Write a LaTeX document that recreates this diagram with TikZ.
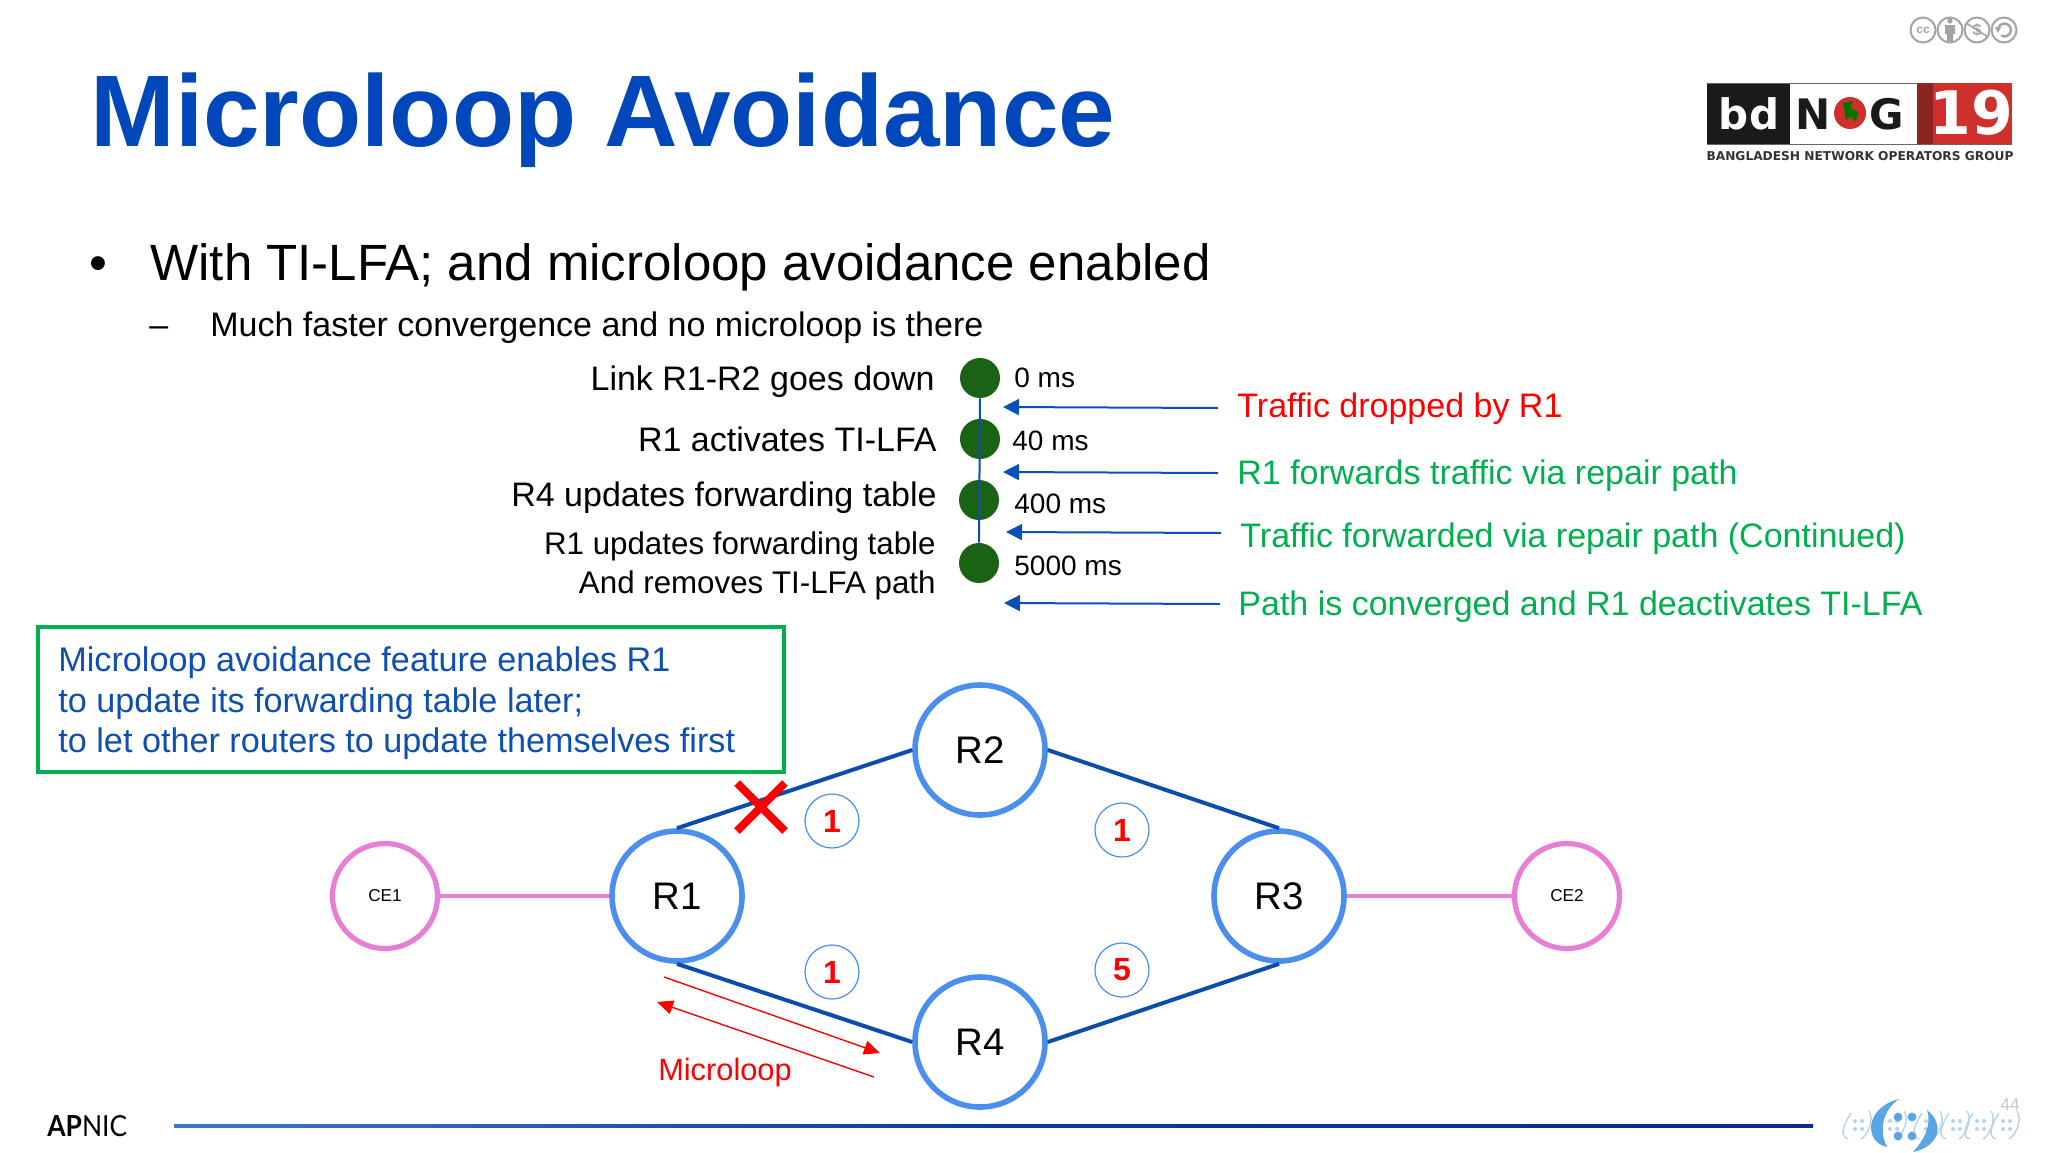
\documentclass[tikz,border=0pt]{standalone}
\usepackage{fontspec}
\setmainfont{Liberation Sans}
\newfontfamily\logofont{DejaVu Sans}
\newfontfamily\apnicfont{Lato}
\usetikzlibrary{arrows.meta}
\definecolor{titleblue}{HTML}{0047BB}
\definecolor{linkblue}{HTML}{0B4DAA}
\definecolor{ringblue}{HTML}{4A8FEE}
\definecolor{pinkline}{HTML}{E87FD6}
\definecolor{dotgreen}{HTML}{1B6314}
\definecolor{txtgreen}{HTML}{00B050}
\definecolor{arrowblue}{HTML}{0B50B8}
\definecolor{boxtext}{HTML}{0F4FB0}
\definecolor{ccgray}{HTML}{A3A3A3}
\definecolor{lightlogo}{HTML}{B5D3EE}
\definecolor{darklogo}{HTML}{5AA5E3}
\definecolor{footA}{HTML}{3C78C8}
\definecolor{footB}{HTML}{0B3A9A}
\definecolor{footC}{HTML}{0A2A8A}
\definecolor{logored}{HTML}{D0302C}
\definecolor{logodark}{HTML}{8E2420}
\definecolor{logoblack}{HTML}{1A1A1A}
\tikzset{
  x=0.5pt,y=-0.5pt,
  router/.style={circle,draw=ringblue,line width=2.8pt,minimum size=65pt,inner sep=0pt,font=\fontsize{19.2}{20}\selectfont},
  ce/.style={circle,draw=pinkline,line width=2.6pt,minimum size=52.5pt,inner sep=0pt,font=\fontsize{8.6}{10}\selectfont},
  link/.style={draw=linkblue,line width=2pt},
  pink/.style={draw=pinkline,line width=2pt},
  cost/.style={circle,draw=ringblue,line width=0.6pt,minimum size=27pt,inner sep=0pt,text=red,font=\bfseries\fontsize{16}{18}\selectfont},
  tdot/.style={circle,fill=dotgreen,minimum size=20pt,inner sep=0pt},
  tarrow/.style={draw=arrowblue,line width=1pt,-{Triangle[length=8pt,width=8pt]}},
  tlabel/.style={anchor=west,inner sep=0pt,font=\fontsize{14}{16}\selectfont},
  llabel/.style={anchor=east,inner sep=0pt,font=\fontsize{17}{20}\selectfont},
  slabel/.style={anchor=east,inner sep=0pt,font=\fontsize{15.65}{18}\selectfont},
  rlabel/.style={anchor=west,inner sep=0pt,font=\fontsize{17}{20}\selectfont},
  redarrow/.style={draw=red,line width=0.7pt,-{Triangle[length=8pt,width=7pt]}},
  cc/.style={circle,draw=ccgray,line width=1pt,minimum size=12.5pt,inner sep=0pt,fill=white},
  smalllogo/.style={draw=lightlogo,line width=0.7pt},
  notetext/.style={anchor=west,inner sep=0pt,text=boxtext,font=\fontsize{17.1}{20}\selectfont},
}
\begin{document}
\begin{tikzpicture}
\useasboundingbox (0,0) rectangle (2048,1152);
\fill[white] (0,0) rectangle (2048,1152);

% title and bullets
\node[anchor=base west,inner sep=0pt,text=titleblue,font=\bfseries\fontsize{50.85}{56}\selectfont] (title) at (90,146) {Microloop Avoidance};
\node[anchor=base west,inner sep=0pt,font=\fontsize{25.5}{30}\selectfont] (b1) at (89,280) {•};
\node[anchor=base west,inner sep=0pt,font=\fontsize{25.5}{30}\selectfont] (h1) at (150,280) {With TI-LFA; and microloop avoidance enabled};
\node[anchor=base west,inner sep=0pt,font=\fontsize{17}{20}\selectfont] (b2) at (149,336) {–};
\node[anchor=base west,inner sep=0pt,font=\fontsize{17}{20}\selectfont] (h2) at (210,336) {Much faster convergence and no microloop is there};

% timeline
\node[tdot] (t1) at (980,378) {};
\node[tdot] (t2) at (980,439) {};
\node[tdot] (t3) at (979,500) {};
\node[tdot] (t4) at (979,563) {};
\draw[draw=arrowblue,line width=1pt] (t1) -- (t4);
\node[tlabel] (m1) at (1014,378) {0 ms};
\node[tlabel] (m2) at (1012,441) {40 ms};
\node[tlabel] (m3) at (1014,504) {400 ms};
\node[tlabel] (m4) at (1014,566) {5000 ms};
\node[llabel] (l1) at (935,382) {Link R1-R2 goes down};
\node[llabel] (l2) at (937,439) {R1 activates TI-LFA};
\node[llabel] (l3) at (937,498) {R4 updates forwarding table};
\node[slabel] (l4) at (936,546) {R1 updates forwarding table};
\node[slabel] (l5) at (936,585) {And removes TI-LFA path};
\node[rlabel,text=red] (r1) at (1237,409) {Traffic dropped by R1};
\node[rlabel,text=txtgreen] (r2) at (1237,476) {R1 forwards traffic via repair path};
\node[rlabel,text=txtgreen] (r3) at (1240,539) {Traffic forwarded via repair path (Continued)};
\node[rlabel,text=txtgreen] (r4) at (1238,607) {Path is converged and R1 deactivates TI-LFA};
\coordinate (a1s) at (1218,408); \coordinate (a1e) at (1003,407);
\coordinate (a2s) at (1218,473); \coordinate (a2e) at (1003,472);
\coordinate (a3s) at (1221,533); \coordinate (a3e) at (1006,532);
\coordinate (a4s) at (1220,604); \coordinate (a4e) at (1004,603);
\draw[tarrow] (a1s) -- (a1e);
\draw[tarrow] (a2s) -- (a2e);
\draw[tarrow] (a3s) -- (a3e);
\draw[tarrow] (a4s) -- (a4e);

% note box
\node[draw=txtgreen,line width=2pt,anchor=north west,minimum width=373pt,minimum height=72.5pt,inner sep=0pt] (note) at (35.5,624.5) {};
\node[notetext] (n1) at (58,663) {Microloop avoidance feature enables R1};
\node[notetext] (n2) at (58,704) {to update its forwarding table later;};
\node[notetext] (n3) at (58,744) {to let other routers to update themselves first};

% network
\node[router] (R1) at (677,896) {R1};
\node[router] (R2) at (980,750) {R2};
\node[router] (R3) at (1279,896) {R3};
\node[router] (R4) at (980,1042) {R4};
\node[ce] (CE1) at (385,896) {CE1};
\node[ce] (CE2) at (1567,896) {CE2};
\draw[link] (R1.north) -- (R2.west);
\draw[link] (R2.east) -- (R3.north);
\draw[link] (R1.south) -- (R4.west);
\draw[link] (R4.east) -- (R3.south);
\draw[pink] (CE1) -- (R1);
\draw[pink] (R3) -- (CE2);
\node[cost] (c1) at (832,821) {1};
\node[cost] (c2) at (1122,830) {1};
\node[cost] (c3) at (832,972) {1};
\node[cost] (c4) at (1122,970) {5};
\coordinate (xa) at (737,783); \coordinate (xb) at (785,831);
\coordinate (xc) at (737,831); \coordinate (xd) at (785,783);
\draw[red,line width=4pt] (xa) -- (xb);
\draw[red,line width=4pt] (xc) -- (xd);
\coordinate (ma) at (664,977); \coordinate (mb) at (880,1053);
\coordinate (mc) at (874,1077); \coordinate (md) at (657,1002);
\draw[redarrow] (ma) -- (mb);
\draw[redarrow] (mc) -- (md);
\node[inner sep=0pt,text=red,font=\fontsize{15.4}{18}\selectfont] (ml) at (725,1073) {Microloop};

% footer
\shade[left color=footA,right color=footC,middle color=footB] (174,1124.5) rectangle (1813,1127.5);
\node[anchor=base west,inner sep=0pt,xscale=0.91,font=\apnicfont\fontsize{14.5}{16}\selectfont] (ap) at (47,1136) {\textbf{AP}NIC};
\node[inner sep=0pt,text=black!22,font=\fontsize{8.5}{10}\selectfont] (pg) at (2010,1105) {44};

% bdNOG logo
\fill[logoblack] (1707,83) rectangle (1790,144);
\fill[white] (1790,83) rectangle (1917,144);
\draw[black!60,line width=0.4pt] (1707,83) -- (2012,83) (1707,144) -- (2012,144);
\fill[logodark] (1917,83) rectangle (1933,144);
\fill[logored] (1933,83) rectangle (2012,144);
\node[text=white,inner sep=0pt,font=\logofont\bfseries\fontsize{21}{24}\selectfont] (bd) at (1749,114) {bd};
\node[text=logoblack,inner sep=0pt,font=\logofont\bfseries\fontsize{21}{24}\selectfont] (nn) at (1813,114) {N};
\fill[logored] (1850,113) circle[radius=8pt];
\fill[green!45!black] (1843,103) -- (1853,101) -- (1850,108) -- (1858,112) -- (1856,122) -- (1850,116) -- (1846,120) -- cycle;
\node[text=logoblack,inner sep=0pt,font=\logofont\bfseries\fontsize{21}{24}\selectfont] (gg) at (1887,114) {G};
\node[text=white,inner sep=0pt,font=\logofont\bfseries\fontsize{30}{34}\selectfont] (nn19) at (1971,113) {19};
\node[text=black!80,inner sep=0pt,font=\logofont\bfseries\fontsize{6.1}{7}\selectfont] (tag) at (1860,156) {BANGLADESH NETWORK OPERATORS GROUP};

% licence icons
\node[cc,text=ccgray,font=\bfseries\fontsize{6}{7}\selectfont] (cc1) at (1923,30) {cc};
\node[cc] (cc2) at (1950,30) {};
\fill[ccgray] (1950,21) circle[radius=1.3pt];
\fill[ccgray] (1945,25) rectangle (1955,34) (1947,34) rectangle (1953,41);
\node[cc,text=ccgray,font=\bfseries\fontsize{8}{9}\selectfont] (cc3) at (1977,30) {\$};
\draw[ccgray,line width=0.8pt] (1966,23) -- (1988,37);
\node[cc] (cc4) at (2004,30) {};
\draw[ccgray,line width=1.2pt] (1998,30) arc[start angle=180,end angle=-120,radius=3.2pt];
\fill[ccgray] (1995,27) -- (2001,27) -- (1998,33) -- cycle;

% right-hand footer logo
\foreach \cx in {1855,1890,1926,1953,1977,2003}{
  \draw[smalllogo] (\cx-7,1139) .. controls (\cx-19,1136) and (\cx-6,1116) .. (\cx-4,1113);
  \draw[smalllogo] (\cx+14,1111) .. controls (\cx+20,1120) and (\cx+12,1136) .. (\cx+6,1139);
  \foreach \dx/\dy in {0/-4,7/-4,0/4,7/4}{\fill[lightlogo] (\cx+\dx,1125+\dy) circle[radius=1pt];}
}
\fill[darklogo] (1899,1099) .. controls (1864,1108) and (1864,1142) .. (1887,1147) .. controls (1880,1134) and (1880,1112) .. (1899,1099) -- cycle;
\fill[darklogo] (1927,1110) .. controls (1946,1125) and (1938,1147) .. (1913,1152) .. controls (1924,1140) and (1932,1125) .. (1927,1110) -- cycle;
\foreach \dx/\dy in {1898/1117,1912/1117,1898/1136,1912/1136}{\fill[darklogo] (\dx,\dy) circle[radius=2.2pt];}
\end{tikzpicture}
\end{document}
